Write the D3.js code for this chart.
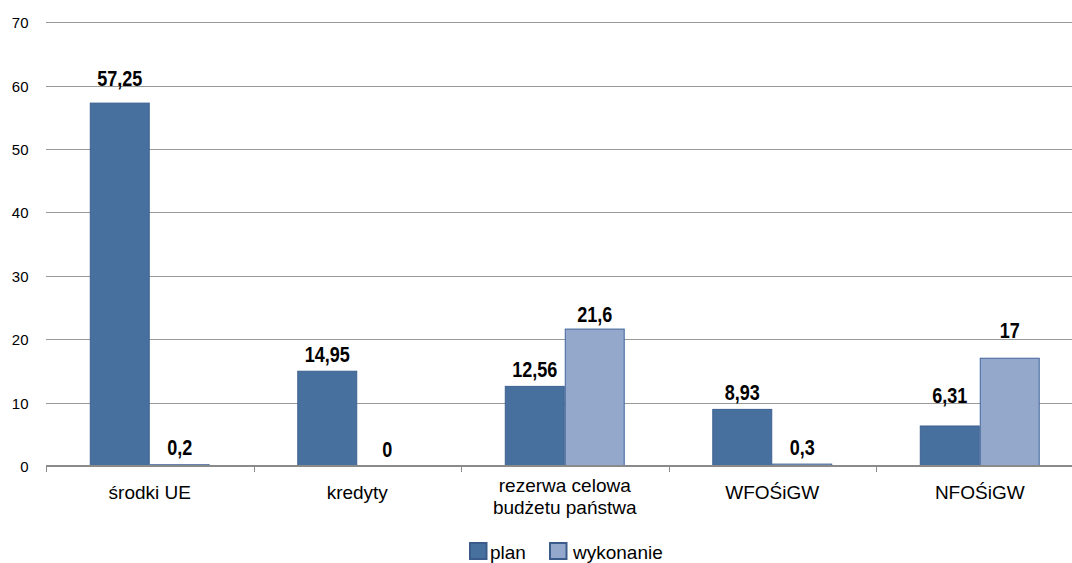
<!DOCTYPE html>
<html>
<head>
<meta charset="utf-8">
<script src="https://cdn.jsdelivr.net/npm/d3@7"></script>
<style>
  html, body { margin: 0; padding: 0; background: #fff; }
  svg { display: block; }
  text { font-family: "Liberation Sans", Arial, sans-serif; fill: #000; }
</style>
</head>
<body>
<svg id="chart" width="1072" height="563"></svg>
<script>
// Funding sources: plan vs. execution
const categories = ["środki UE", "kredyty", "rezerwa celowa\nbudżetu państwa", "WFOŚiGW", "NFOŚiGW"];
const planValues = [57.25, 14.95, 12.56, 8.93, 6.31];
const wykonanieValues = [0.2, 0, 21.6, 0.3, 17];
const seriesNames = ["plan", "wykonanie"];
const yTicks = [0, 10, 20, 30, 40, 50, 60, 70];

// extra lift (px) of individual value labels above their bars
const planLabelLift = [8, 0, 0, 0, 14];
const wykonanieLabelLift = [0, 0, -2, 0, 11];

const colors = { plan: "#48709F", wykonanie: "#94A8CB" };
const strokes = { plan: "#3C6190", wykonanie: "#42649A" };

const svg = d3.select("#chart");
const W = 1072, H = 563;
const plotLeft = 46, plotRight = 1083.5, plotTop = 22.3, plotBottom = 466;

const x0 = d3.scaleBand()
  .domain(categories)
  .range([plotLeft, plotRight])
  .paddingInner(0).paddingOuter(0);

const x1 = d3.scaleBand()
  .domain(seriesNames)
  .range([0, x0.bandwidth()])
  .paddingInner(0)
  .paddingOuter(0.73);

const y = d3.scaleLinear().domain([0, 70]).range([plotBottom, plotTop]);

// gridlines
svg.append("g").selectAll("line")
  .data(yTicks.filter(d => d > 0))
  .join("line")
  .attr("x1", plotLeft).attr("x2", W)
  .attr("y1", d => Math.round(y(d)) + 0.5).attr("y2", d => Math.round(y(d)) + 0.5)
  .attr("stroke", "#999").attr("stroke-width", 1);

// y tick labels
svg.append("g").selectAll("text")
  .data(yTicks)
  .join("text")
  .attr("x", 28.5).attr("y", d => y(d) + 6)
  .attr("text-anchor", "end")
  .attr("font-size", 15)
  .attr("fill", "#111")
  .text(d => d);

const rows = categories.map((c, i) => ({
  cat: c,
  vals: [
    { key: "plan", value: planValues[i], lift: planLabelLift[i] },
    { key: "wykonanie", value: wykonanieValues[i], lift: wykonanieLabelLift[i] }
  ]
}));

// bars
const groups = svg.append("g").selectAll("g")
  .data(rows)
  .join("g")
  .attr("transform", d => `translate(${x0(d.cat)},0)`);

groups.selectAll("rect")
  .data(d => d.vals)
  .join("rect")
  .attr("x", d => x1(d.key) + 0.5)
  .attr("width", x1.bandwidth() - 1)
  .attr("y", d => y(d.value))
  .attr("height", d => y(0) - y(d.value))
  .attr("fill", d => colors[d.key])
  .attr("stroke", d => d.value > 0 ? strokes[d.key] : "none")
  .attr("stroke-width", 1);

// value labels (condensed bold)
groups.selectAll("text.val")
  .data(d => d.vals)
  .join("text")
  .attr("class", "val")
  .attr("transform", d => `translate(${x1(d.key) + x1.bandwidth() / 2},${y(d.value) - 9.5 - d.lift}) scale(0.82,1)`)
  .attr("text-anchor", "middle")
  .attr("font-size", 22)
  .attr("font-weight", "bold")
  .text(d => String(d.value).replace(".", ","));

// x axis baseline and ticks
const axisY = 466;
svg.append("line")
  .attr("x1", plotLeft).attr("x2", W)
  .attr("y1", axisY).attr("y2", axisY)
  .attr("stroke", "#8a8a8a").attr("stroke-width", 2);

const tickXs = categories.map(c => x0(c));
svg.append("g").selectAll("line")
  .data(tickXs)
  .join("line")
  .attr("x1", d => Math.round(d) + 0.5).attr("x2", d => Math.round(d) + 0.5)
  .attr("y1", axisY).attr("y2", axisY + 6)
  .attr("stroke", "#8a8a8a").attr("stroke-width", 1);

// category labels
svg.append("g").selectAll("text")
  .data(categories)
  .join("text")
  .attr("text-anchor", "middle")
  .attr("font-size", 19)
  .each(function (d) {
    const lines = d.split("\n");
    const cx = x0(d) + x0.bandwidth() / 2;
    d3.select(this).selectAll("tspan")
      .data(lines)
      .join("tspan")
      .attr("x", cx)
      .attr("y", (l, i) => lines.length === 1 ? 499 : 492 + i * 21.5)
      .text(l => l);
  });

// legend
const legend = svg.append("g").attr("transform", "translate(469,542)");
const legendItems = [{ key: "plan", x: 0 }, { key: "wykonanie", x: 80 }];
legendItems.forEach(it => {
  legend.append("rect")
    .attr("x", it.x + 1).attr("y", 1)
    .attr("width", 16.5).attr("height", 16)
    .attr("fill", colors[it.key])
    .attr("stroke", "#3B5C8A").attr("stroke-width", 2);
  legend.append("text")
    .attr("x", it.x + (it.key === "plan" ? 21 : 24)).attr("y", 17)
    .attr("font-size", 19)
    .text(it.key);
});
</script>
</body>
</html>
